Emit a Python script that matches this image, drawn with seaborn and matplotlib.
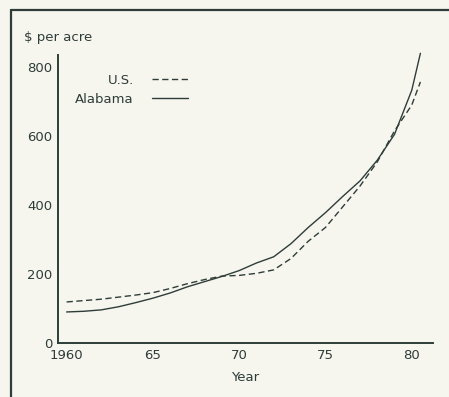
import matplotlib
matplotlib.use("Agg")
import matplotlib.pyplot as plt
from matplotlib.lines import Line2D
import seaborn as sns
import pandas as pd

# Average farm real estate value, dollars per acre
years = [1960, 1961, 1962, 1963, 1964, 1965, 1966, 1967, 1968, 1969, 1970,
         1971, 1972, 1973, 1974, 1975, 1976, 1977, 1978, 1979, 1980, 1980.5]
us_values = [119, 123, 127, 133, 139, 146, 158, 172, 184, 194, 196,
             202, 212, 245, 295, 335, 395, 455, 525, 615, 690, 757]
alabama_values = [90, 92, 96, 105, 117, 130, 145, 163, 178, 193, 210,
                  232, 250, 288, 335, 378, 425, 470, 530, 605, 733, 840]
series_names = ["U.S.", "Alabama"]

x_ticks = [1960, 1965, 1970, 1975, 1980]
x_tick_labels = ["1960", "65", "70", "75", "80"]
y_ticks = [0, 200, 400, 600, 800]

df = pd.concat([
    pd.DataFrame({"Year": years, "value": us_values, "series": series_names[0]}),
    pd.DataFrame({"Year": years, "value": alabama_values, "series": series_names[1]}),
])

ink = "#2e3d39"
paper = "#f6f5ee"
fs = 9.5

sns.set_style("white")
plt.rcParams["font.family"] = ["DejaVu Sans"]
plt.rcParams["text.color"] = ink

fig = plt.figure(figsize=(4.49, 3.97), dpi=100, facecolor=paper)
ax = fig.add_axes([58 / 449, 1 - 343 / 397, 375 / 449, (343 - 53.3) / 397])
ax.set_facecolor(paper)

sns.lineplot(data=df, x="Year", y="value", style="series",
             dashes={"U.S.": (4.5, 2.5), "Alabama": ""},
             color=ink, linewidth=1.0, ax=ax, legend=False, clip_on=False)

ax.set_xlim(1959.5, 1981.23)
ax.set_ylim(0, 840)
ax.set_xticks(x_ticks)
ax.set_xticklabels(x_tick_labels)
ax.set_yticks(y_ticks)
ax.tick_params(direction="in", length=6.5, width=1.1, color=ink,
               labelcolor=ink, labelsize=fs, pad=4)
ax.tick_params(axis="x", pad=4)
for side in ("top", "right"):
    ax.spines[side].set_visible(False)
for side in ("left", "bottom"):
    ax.spines[side].set_color(ink)
    ax.spines[side].set_linewidth(1.4)
ax.spines["left"].set_bounds(0, 835)

ax.set_xlabel("Year", fontsize=fs, color=ink, labelpad=7)
ax.set_ylabel("")
fig.text(24 / 449, 1 - 37 / 397, "$ per acre", fontsize=fs, color=ink,
         va="center", ha="left")

handles = [Line2D([], [], color=ink, lw=1.0, dashes=(4.5, 2.5)),
           Line2D([], [], color=ink, lw=1.0)]
ax.legend(handles, series_names, loc="upper right",
          bbox_to_anchor=(188 / 449, 1 - 74 / 397),
          bbox_transform=fig.transFigure, frameon=False, markerfirst=False,
          fontsize=fs, handlelength=2.7, handletextpad=1.4,
          labelspacing=0.45, borderpad=0, borderaxespad=0)

# page frame along the top and left
fig.add_artist(Line2D([11 / 449, 11 / 449], [0, 1 - 10 / 397],
                      transform=fig.transFigure, color=ink, lw=1.6))
fig.add_artist(Line2D([11 / 449, 1], [1 - 10 / 397, 1 - 10 / 397],
                      transform=fig.transFigure, color=ink, lw=1.6))

fig.savefig("out.png", dpi=100, facecolor=paper)
